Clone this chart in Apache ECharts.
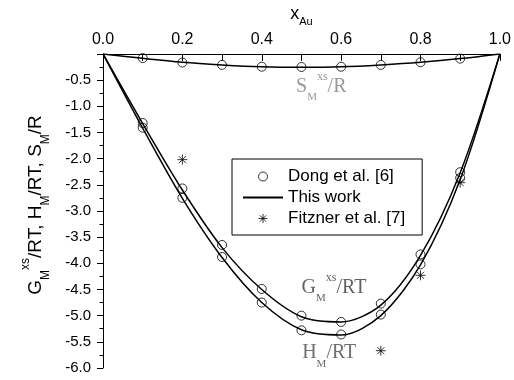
<!DOCTYPE html>
<html>
<head>
<meta charset="utf-8">
<script src="https://cdn.jsdelivr.net/npm/echarts@6/dist/echarts.min.js"></script>
<style>
html, body { margin: 0; padding: 0; background: #fff; }
#chart { width: 514px; height: 380px; }
</style>
</head>
<body>
<div id="chart"></div>
<script>
// Dong et al. [6] (circles)
var xDong = [0.1, 0.2, 0.3, 0.4, 0.5, 0.6, 0.7, 0.8, 0.9];
var sDong = [-0.08, -0.165, -0.21, -0.245, -0.25, -0.245, -0.21, -0.16, -0.09];
var gDong = [-1.32, -2.57, -3.65, -4.49, -5.0, -5.12, -4.77, -3.83, -2.26];
var hDong = [-1.41, -2.75, -3.88, -4.75, -5.28, -5.36, -4.98, -4.02, -2.37];

// Fitzner et al. [7] (stars)
var xFitz = [0.2, 0.7, 0.8, 0.9];
var yFitz = [-2.02, -5.67, -4.23, -2.46];

// This work (lines)
var xLine = [0, 0.1, 0.2, 0.3, 0.4, 0.5, 0.6, 0.7, 0.8, 0.9, 1.0];
var sLine = [0, -0.085, -0.16, -0.21, -0.245, -0.255, -0.245, -0.21, -0.16, -0.09, 0];
var gLine = [0, -1.33, -2.6, -3.7, -4.5, -5.02, -5.12, -4.8, -3.85, -2.27, 0];
var hLine = [0, -1.42, -2.76, -3.89, -4.75, -5.27, -5.37, -5.0, -4.03, -2.4, 0];

// curve labels
var annotText = [
    "{m|S}{sub|M}{sup|xs}{m|/R}",
    "{m|G}{sub|M}{sup|xs}{m|/RT}",
    "{m|H}{sub|M}{m|/RT}"
];
var annotX = [0.55, 0.582, 0.57];
var annotY = [-0.62, -4.47, -5.716];
var annotColor = ["#808080", "#3a3a3a", "#4a4a4a"];

var sans = "'Liberation Sans', Arial, sans-serif";
var serif = "'Liberation Serif', 'Times New Roman', serif";

function pairs(xs, ys) {
    return xs.map(function(x, i) {
        return [x, ys[i]];
    });
}

var starPath = "path://M5,0L5,10M0,5L10,5M1.5,1.5L8.5,8.5M1.5,8.5L8.5,1.5";

var chart = echarts.init(document.getElementById("chart"));

var lineSeries = [sLine, gLine, hLine].map(function(ys) {
    return {
        name: "This work",
        type: "line",
        data: pairs(xLine, ys),
        smooth: 0.3,
        symbol: "none",
        z: 2,
        lineStyle: { color: "#000", width: 1.5 },
        itemStyle: { color: "#000" }
    };
});

var option = {
    backgroundColor: "#fff",
    animation: false,
    grid: { left: 103, right: 9, top: 41, bottom: 12 },
    legend: {
        orient: "vertical",
        left: 232,
        top: 159,
        padding: [9, 17, 8, 10],
        itemWidth: 40,
        itemHeight: 9,
        itemGap: 4,
        borderColor: "#000",
        borderWidth: 1,
        selectedMode: false,
        textStyle: { fontFamily: sans, fontSize: 17, color: "#000" },
        data: [
            { name: "Dong et al. [6]", itemStyle: { borderWidth: 1 } },
            { name: "This work", itemStyle: { opacity: 0 } },
            { name: "Fitzner et al. [7]", itemStyle: { borderWidth: 1 } }
        ]
    },
    xAxis: {
        type: "value",
        position: "top",
        min: 0,
        max: 1,
        interval: 0.2,
        name: "{m|x}{s|Au}",
        nameLocation: "middle",
        nameGap: 22,
        nameTextStyle: {
            rich: {
                m: { fontFamily: sans, fontSize: 18, lineHeight: 26, color: "#000" },
                s: { fontFamily: sans, fontSize: 11, lineHeight: 11, verticalAlign: "bottom", color: "#000" }
            }
        },
        axisLine: { onZero: false, lineStyle: { color: "#000", width: 1 } },
        axisTick: { inside: true, length: 7, lineStyle: { color: "#000" } },
        minorTick: { show: true, splitNumber: 2, length: 7, lineStyle: { color: "#000" } },
        splitLine: { show: false },
        axisLabel: {
            margin: 6,
            fontFamily: sans,
            fontSize: 16,
            color: "#000",
            formatter: function(v) { return v.toFixed(1); }
        }
    },
    yAxis: {
        type: "value",
        min: -6,
        max: 0,
        interval: 0.5,
        name: "{m|G}{sub|M}{sup|xs}{m|/RT, H}{sub|M}{m|/RT, S}{sub|M}{m|/R}",
        nameLocation: "middle",
        nameRotate: 90,
        nameGap: 51,
        nameTextStyle: {
            padding: [0, 0, 0, 12],
            rich: {
                m: { fontFamily: sans, fontSize: 19, lineHeight: 32, color: "#000" },
                sub: { fontFamily: sans, fontSize: 12, lineHeight: 10, verticalAlign: "bottom", color: "#000" },
                sup: { fontFamily: sans, fontSize: 12, lineHeight: 8, verticalAlign: "top", color: "#000" }
            }
        },
        axisLine: { onZero: false, lineStyle: { color: "#000", width: 1 } },
        axisTick: { inside: false, length: 6, lineStyle: { color: "#000" } },
        minorTick: { show: true, splitNumber: 2, length: 3.5, lineStyle: { color: "#000" } },
        splitLine: { show: false },
        axisLabel: {
            margin: 12,
            fontFamily: sans,
            fontSize: 15,
            color: "#000",
            formatter: function(v) { return v === 0 ? "" : v.toFixed(1); }
        }
    },
    series: lineSeries.concat([
        {
            name: "Dong et al. [6]",
            type: "scatter",
            symbol: "circle",
            symbolSize: 9,
            z: 3,
            data: pairs(xDong, sDong).concat(pairs(xDong, gDong), pairs(xDong, hDong)),
            itemStyle: { color: "transparent", borderColor: "#000", borderWidth: 1 }
        },
        {
            name: "Fitzner et al. [7]",
            type: "scatter",
            symbol: starPath,
            symbolSize: 10,
            z: 3,
            data: pairs(xFitz, yFitz),
            itemStyle: { color: "transparent", borderColor: "#000", borderWidth: 1 }
        },
        {
            name: "labels",
            type: "scatter",
            symbolSize: 1,
            silent: true,
            z: 4,
            itemStyle: { color: "transparent" },
            label: {
                show: true,
                position: "inside",
                formatter: function(p) { return annotText[p.dataIndex]; },
                rich: {
                    m: { fontFamily: serif, fontSize: 20, lineHeight: 32 },
                    sub: { fontFamily: serif, fontSize: 11, lineHeight: 10, verticalAlign: "bottom" },
                    sup: { fontFamily: serif, fontSize: 12, lineHeight: 8, verticalAlign: "top" }
                }
            },
            data: annotX.map(function(x, i) {
                return {
                    value: [x, annotY[i]],
                    label: { color: annotColor[i] }
                };
            })
        }
    ])
};

chart.setOption(option);
</script>
</body>
</html>
